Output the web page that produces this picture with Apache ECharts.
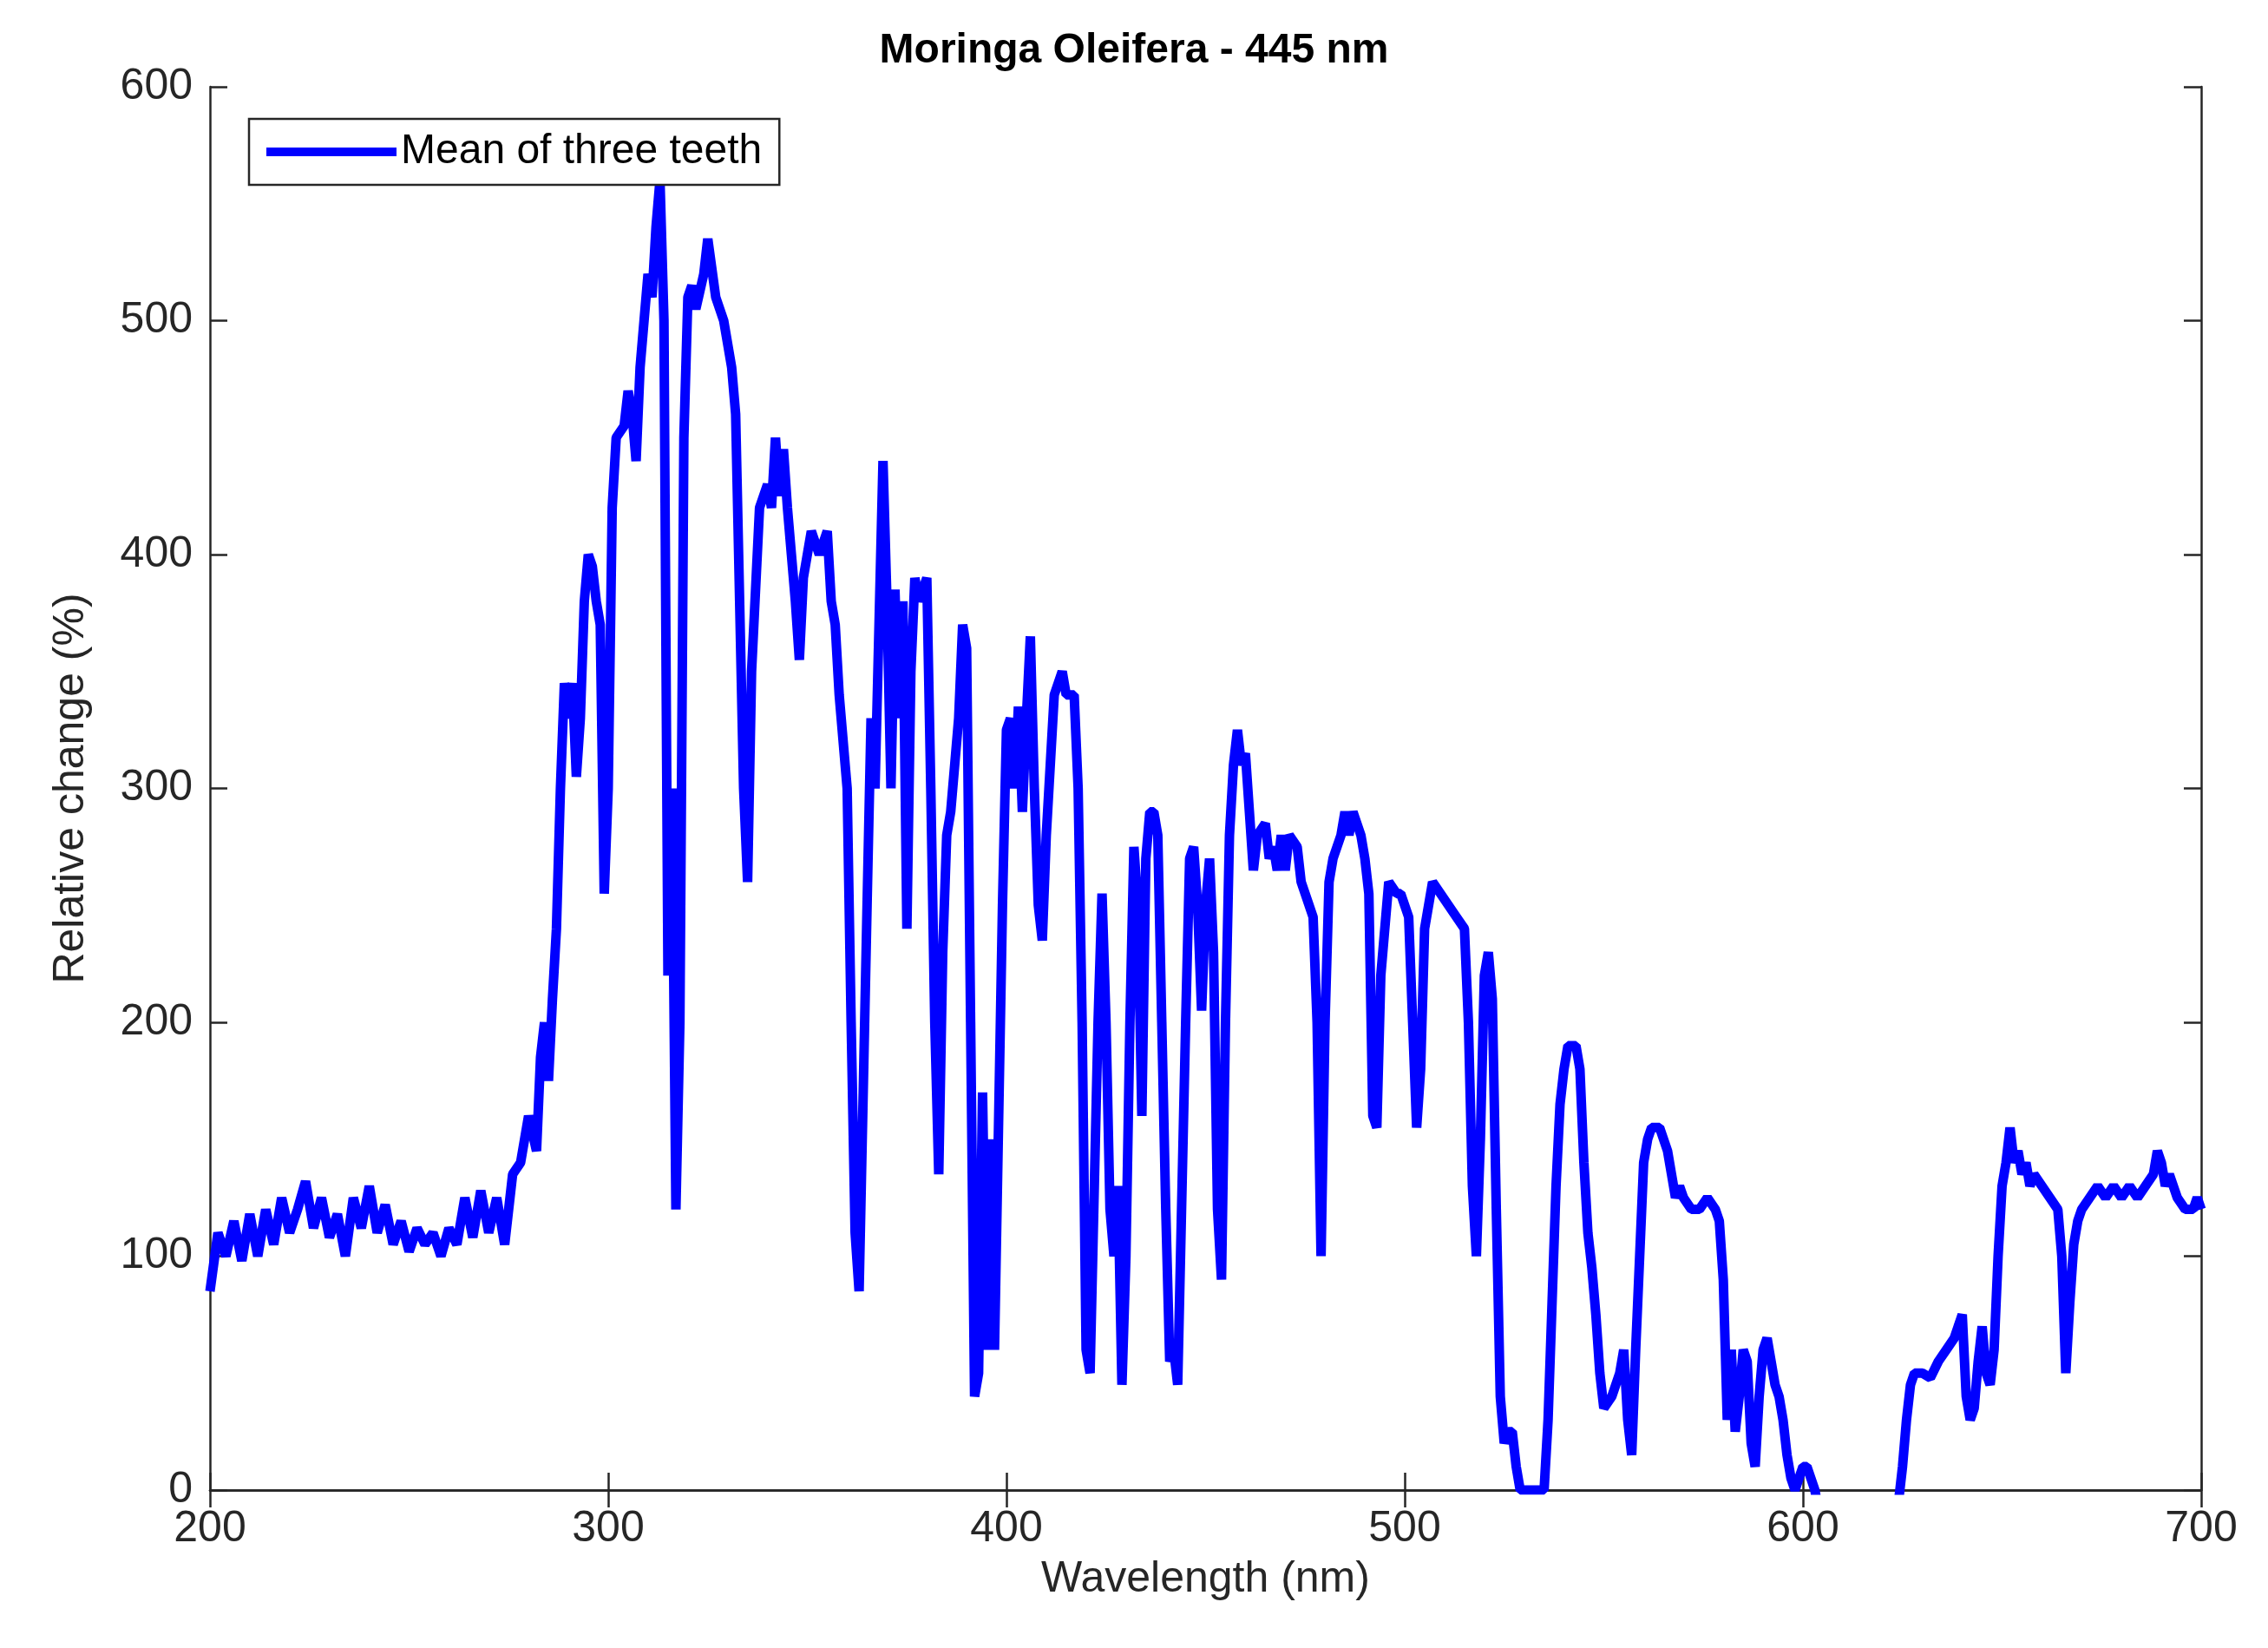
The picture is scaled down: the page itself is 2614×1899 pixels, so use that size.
<!DOCTYPE html>
<html>
<head>
<meta charset="utf-8">
<script src="https://cdn.jsdelivr.net/npm/echarts@6/dist/echarts.min.js"></script>
<style>html,body{margin:0;padding:0;background:#fff}#chart{width:2614px;height:1899px}</style>
</head>
<body>
<div id="chart"></div>
<script>
// [wavelength nm, relative change %], in bands
var band200 = [[200,85],[202,110],[204,100],[206,115],[208,98],[210,118],[212,100],[214,120],[216,105],[218,125],[220,110],[222,120],[224,132],[226,112],[228,125],[230,108],[232,118],[234,100],[236,125],[238,112],[240,130],[242,110],[244,122],[246,105],[248,115],[250,102],[252,112],[254,105],[256,110],[258,100],[260,112],[262,105],[264,125],[266,108],[268,128],[270,110],[272,125],[274,105],[276,135],[278,140],[280,160],[282,145],[283,185],[284,200],[285,175],[286,210],[287,240],[288,300],[289,345],[290,330],[291,345],[292,305],[293,330],[294,380],[295,400],[296,395],[297,380],[298,370],[299,255],[300,300]];
var band300 = [[301,420],[302,450],[304,455],[305,470],[306,460],[307,440],[308,480],[309,500],[310,520],[311,510],[312,540],[313,560],[314,500],[315,220],[316,300],[317,120],[318,200],[319,450],[320,510],[321,515],[322,505],[324,520],[325,535],[327,510],[329,500],[331,480],[332,460],[334,300],[335,260],[336,350],[338,420],[340,430],[341,420],[342,450],[343,425],[344,445],[345,420],[346,400],[347,380],[348,355],[349,390],[351,410],[353,400],[355,410],[356,380],[357,370],[358,340],[360,300],[361,200],[362,110],[363,85],[365,250],[366,330],[367,300],[369,440],[370,380],[371,300],[372,385],[373,330],[374,380],[375,240],[376,350],[377,390],[378,380],[380,390],[381,300],[382,200],[383,135],[384,230],[385,280],[386,290],[388,330],[389,370],[390,360],[391,200],[392,40],[393,50],[394,170],[395,60],[396,150],[397,60],[399,250]];
var band400 = [[400,325],[401,330],[402,300],[403,335],[404,290],[405,330],[406,365],[407,300],[408,250],[409,235],[410,280],[412,340],[414,350],[415,340],[417,340],[418,300],[419,200],[420,60],[421,50],[423,200],[424,255],[425,200],[426,120],[427,100],[428,130],[429,45],[430,100],[431,200],[432,275],[433,250],[434,160],[435,270],[436,290],[437,290],[438,280],[439,200],[440,120],[441,55],[442,60],[443,45],[445,200],[446,270],[447,275],[448,250],[449,205],[450,250],[451,270],[452,230],[453,120],[454,90],[455,200],[456,280],[457,310],[458,325],[459,310],[460,315],[461,290],[462,265],[463,280],[465,285],[466,270],[467,275],[468,265],[469,280],[470,265],[471,280],[473,275],[474,260],[475,255],[477,245],[478,200],[479,100],[480,200],[481,260],[482,270],[484,280],[485,290],[486,280],[487,290],[488,285],[489,280],[490,270],[491,255],[492,160],[493,155],[494,220],[496,260],[498,255]];
var band500 = [[499,255],[500,250],[501,245],[502,200],[503,155],[504,180],[505,240],[507,260],[509,255],[511,250],[513,245],[515,240],[516,200],[517,130],[518,100],[519,150],[520,220],[521,230],[522,210],[523,120],[524,40],[525,20],[526,25],[527,25],[528,10],[529,0],[531,0],[533,0],[535,0],[536,30],[537,80],[538,130],[539,165],[540,180],[541,190],[542,190],[543,190],[544,180],[545,140],[546,110],[547,95],[548,75],[549,50],[550,35],[552,40],[554,50],[555,60],[556,30],[557,15],[558,60],[559,100],[560,140],[561,150],[562,155],[563,155],[564,155],[565,150],[566,145],[567,135],[568,125],[569,130],[570,125],[572,120],[574,120],[576,125],[578,120],[579,115],[580,90],[581,30],[582,60],[583,25],[584,40],[585,60],[586,55],[587,20],[588,10],[589,40],[590,60],[591,65],[592,55],[593,45],[594,40],[595,30],[596,15],[597,5],[598,0],[599,5],[600,10],[601,10],[602,5],[603,0],[605,-20]];
var band600 = [[612,-40],[620,-20],[624,-5],[625,10],[626,30],[627,45],[628,50],[630,50],[632,48],[634,55],[636,60],[638,65],[639,70],[640,75],[641,40],[642,30],[643,35],[644,55],[645,70],[646,50],[647,45],[648,60],[649,100],[650,130],[651,140],[652,155],[653,140],[654,145],[655,135],[656,140],[657,130],[658,135],[660,130],[662,125],[664,120],[665,100],[666,50],[667,80],[668,105],[669,115],[670,120],[672,125],[674,130],[676,125],[678,130],[680,125],[682,130],[684,125],[686,130],[688,135],[689,145],[690,140],[691,130],[692,135],[694,125],[696,120],[698,120],[699,125],[700,120]];

var seriesData = band200.concat(band300, band400, band500, band600);

var chart = echarts.init(document.getElementById('chart'));
var axisFont = { fontFamily: 'Liberation Sans', fontSize: 50, color: '#262626' };
var lineStyle = { color: '#262626', width: 2.5 };

var option = {
  backgroundColor: '#fff',
  animation: false,
  title: {
    text: 'Moringa Oleifera - 445 nm',
    left: 'center',
    top: 30,
    textStyle: { fontFamily: 'Liberation Sans', fontSize: 48, fontWeight: 'bold', color: '#000' }
  },
  legend: {
    left: 287, top: 137,
    padding: [14, 20, 14, 20],
    borderColor: '#262626', borderWidth: 2.5, backgroundColor: '#fff',
    icon: 'rect', itemWidth: 150, itemHeight: 10, itemGap: 20,
    textStyle: { fontFamily: 'Liberation Sans', fontSize: 48, color: '#000' },
    data: ['Mean of three teeth']
  },
  grid: { left: 242, right: 77, top: 100, bottom: 182 },
  xAxis: [{
    type: 'value', min: 200, max: 700, interval: 100,
    name: 'Wavelength (nm)', nameLocation: 'middle', nameGap: 78,
    nameTextStyle: axisFont,
    axisLine: { lineStyle: lineStyle },
    axisTick: { inside: true, length: 20, lineStyle: lineStyle },
    axisLabel: Object.assign({ margin: 20 }, axisFont),
    splitLine: { show: false }
  }, {
    type: 'value', position: 'top', min: 200, max: 700, interval: 100,
    axisLine: { lineStyle: lineStyle },
    axisTick: { inside: true, length: 20, lineStyle: lineStyle },
    axisLabel: { show: false }, splitLine: { show: false }
  }],
  yAxis: [{
    type: 'value', min: 0, max: 600, interval: 100,
    name: 'Relative change (%)', nameLocation: 'middle', nameGap: 135,
    nameTextStyle: axisFont,
    axisLine: { show: true, lineStyle: lineStyle },
    axisTick: { show: true, inside: true, length: 20, lineStyle: lineStyle },
    axisLabel: Object.assign({ margin: 20 }, axisFont),
    splitLine: { show: false }
  }, {
    type: 'value', position: 'right', min: 0, max: 600, interval: 100,
    axisLine: { show: true, lineStyle: lineStyle },
    axisTick: { show: true, inside: true, length: 20, lineStyle: lineStyle },
    axisLabel: { show: false }, splitLine: { show: false }
  }],
  series: [{
    name: 'Mean of three teeth',
    type: 'line',
    data: seriesData,
    showSymbol: false,
    clip: true,
    lineStyle: { color: '#0000ff', width: 11 },
    itemStyle: { color: '#0000ff' }
  }]
};
chart.setOption(option);
</script>
</body>
</html>
